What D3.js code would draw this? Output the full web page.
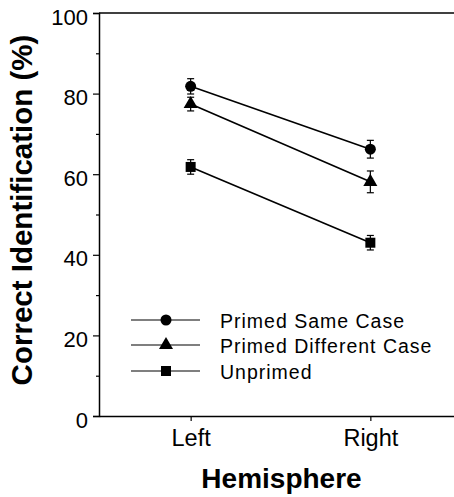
<!DOCTYPE html>
<html>
<head>
<meta charset="utf-8">
<script src="https://cdn.jsdelivr.net/npm/d3@7"></script>
<style>
  html, body { margin: 0; padding: 0; background: #fff; }
  svg { display: block; }
  text { font-family: "Liberation Sans", Arial, Helvetica, sans-serif; fill: #000; }
</style>
</head>
<body>
<script>
const categories = ["Left", "Right"];
const seriesNames = ["Primed Same Case", "Primed Different Case", "Unprimed"];
const seriesSymbols = ["circle", "triangle", "square"];
const sameCase = [81.8, 66.2];
const sameCaseErr = [1.9, 2.2];
const diffCase = [77.4, 58.1];
const diffCaseErr = [1.7, 2.7];
const unprimed = [61.8, 43.0];
const unprimedErr = [1.8, 1.8];
const yMajorTicks = [0, 20, 40, 60, 80, 100];
const yMinorTicks = [10, 30, 50, 70, 90];
const yTitle = "Correct Identification (%)";
const xTitle = "Hemisphere";

const W = 454, H = 497;
const svg = d3.select("body").append("svg").attr("width", W).attr("height", H);

const x0 = 99, x1 = 462, yTop = 13, yBot = 416;
const x = d3.scalePoint().domain(categories).range([x0, x1]).padding(0.51);
const y = d3.scaleLinear().domain([0, 100]).range([yBot, yTop]);

// frame top line
svg.append("line").attr("x1", x0).attr("x2", x1).attr("y1", y(100)).attr("y2", y(100))
  .attr("stroke", "#000").attr("stroke-width", 1.5);

// y axis
const yAxis = svg.append("g").attr("transform", `translate(${x0},0)`)
  .call(d3.axisLeft(y).tickValues(yMajorTicks).tickSize(6).tickPadding(5).tickFormat(d3.format("d")));
yAxis.select(".domain").attr("stroke-width", 1.5);
yAxis.selectAll(".tick line").attr("stroke-width", 1.2);
yAxis.selectAll(".tick text").attr("font-size", 22).attr("dy", "0.5em")
  .attr("font-family", "Liberation Sans, Arial, sans-serif");
const yMinor = svg.append("g").attr("transform", `translate(${x0},0)`)
  .call(d3.axisLeft(y).tickValues(yMinorTicks).tickSize(3).tickFormat(""));
yMinor.select(".domain").remove();
yMinor.selectAll(".tick line").attr("stroke-width", 1.2);

// x axis
const xAxis = svg.append("g").attr("transform", `translate(0,${yBot})`)
  .call(d3.axisBottom(x).tickSize(5).tickSizeOuter(0).tickPadding(8));
xAxis.select(".domain").attr("stroke-width", 1.5);
xAxis.selectAll(".tick line").attr("stroke-width", 1.2);
xAxis.selectAll(".tick text").attr("font-size", 23.5).attr("font-family", "Liberation Sans, Arial, sans-serif");

// titles
svg.append("text").attr("transform", "translate(32,210) rotate(-90)")
  .attr("text-anchor", "middle").attr("font-size", 29.5).attr("font-weight", "bold").text(yTitle);
svg.append("text").attr("x", 281.5).attr("y", 488)
  .attr("text-anchor", "middle").attr("font-size", 28).attr("font-weight", "bold").text(xTitle);

const symbolMap = { circle: d3.symbolCircle, triangle: d3.symbolTriangle, square: d3.symbolSquare };
const symbolSize = { circle: 95, triangle: 85, square: 100 };
const series = [
  { name: seriesNames[0], vals: sameCase, err: sameCaseErr, sym: seriesSymbols[0] },
  { name: seriesNames[1], vals: diffCase, err: diffCaseErr, sym: seriesSymbols[1] },
  { name: seriesNames[2], vals: unprimed, err: unprimedErr, sym: seriesSymbols[2] }
];

const line = d3.line().x(d => x(d.c)).y(d => y(d.v));
series.forEach(s => {
  const pts = categories.map((c, i) => ({ c, v: s.vals[i], e: s.err[i] }));
  svg.append("path").datum(pts).attr("d", line).attr("fill", "none")
    .attr("stroke", "#000").attr("stroke-width", 1.6);
  const g = svg.append("g");
  pts.forEach(p => {
    const cx = x(p.c);
    g.append("line").attr("x1", cx).attr("x2", cx).attr("y1", y(p.v + p.e)).attr("y2", y(p.v - p.e))
      .attr("stroke", "#000").attr("stroke-width", 1.2);
    [p.v + p.e, p.v - p.e].forEach(v => {
      g.append("line").attr("x1", cx - 3.5).attr("x2", cx + 3.5).attr("y1", y(v)).attr("y2", y(v))
        .attr("stroke", "#000").attr("stroke-width", 1.2);
    });
    g.append("path").attr("transform", `translate(${cx},${y(p.v)})`)
      .attr("d", d3.symbol().type(symbolMap[s.sym]).size(symbolSize[s.sym])()).attr("fill", "#000");
  });
});

// legend
const legY = [320, 345, 371];
series.forEach((s, i) => {
  const ly = legY[i];
  svg.append("line").attr("x1", 131).attr("x2", 200).attr("y1", ly).attr("y2", ly)
    .attr("stroke", "#000").attr("stroke-width", 1.2);
  svg.append("path").attr("transform", `translate(166,${ly})`)
    .attr("d", d3.symbol().type(symbolMap[s.sym]).size(symbolSize[s.sym])()).attr("fill", "#000");
  svg.append("text").attr("x", 220).attr("y", ly + 8).attr("font-size", 19.5)
    .attr("letter-spacing", 1).text(s.name);
});
</script>
</body>
</html>
